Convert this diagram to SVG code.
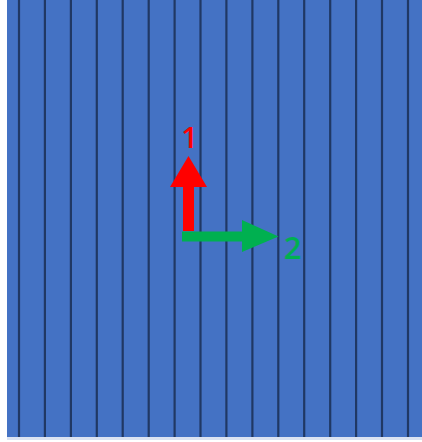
<svg xmlns="http://www.w3.org/2000/svg" width="422" height="442" viewBox="0 0 422 442">
<style>
.bg{fill:#4472c4}
.ln{stroke:#203864;stroke-width:2.2}
.lbl{font-family:"Open Sans","Liberation Sans",sans-serif;font-weight:600}
</style>
<rect x="0" y="0" width="422" height="442" fill="#ffffff"/>
<rect class="bg" x="7" y="0" width="415" height="437"/>
<rect x="7" y="437" width="415" height="3" fill="#dbe3f2"/>
<g id="lines">
<line class="ln" x1="19" y1="0" x2="19" y2="437"/>
<line class="ln" x1="44.9" y1="0" x2="44.9" y2="437"/>
<line class="ln" x1="70.9" y1="0" x2="70.9" y2="437"/>
<line class="ln" x1="96.8" y1="0" x2="96.8" y2="437"/>
<line class="ln" x1="122.7" y1="0" x2="122.7" y2="437"/>
<line class="ln" x1="148.7" y1="0" x2="148.7" y2="437"/>
<line class="ln" x1="174.6" y1="0" x2="174.6" y2="437"/>
<line class="ln" x1="200.5" y1="0" x2="200.5" y2="437"/>
<line class="ln" x1="226.4" y1="0" x2="226.4" y2="437"/>
<line class="ln" x1="252.4" y1="0" x2="252.4" y2="437"/>
<line class="ln" x1="278.3" y1="0" x2="278.3" y2="437"/>
<line class="ln" x1="304.2" y1="0" x2="304.2" y2="437"/>
<line class="ln" x1="330.2" y1="0" x2="330.2" y2="437"/>
<line class="ln" x1="356.1" y1="0" x2="356.1" y2="437"/>
<line class="ln" x1="382" y1="0" x2="382" y2="437"/>
<line class="ln" x1="408" y1="0" x2="408" y2="437"/>
</g>
<g id="axis1">
<polygon fill="#ff0000" points="183,231 194,231 194,187 207,187 188.5,156 170,187 183,187"/>
<text class="lbl" x="189.5" y="148" font-size="29" fill="#ff0000" text-anchor="middle">1</text>
</g>
<g id="axis2">
<polygon fill="#00b050" points="182,231.5 242,231.5 242,220 278.5,236.5 242,252 242,241.5 182,241.5"/>
<text class="lbl" x="292.5" y="259" font-size="31" fill="#00b050" text-anchor="middle">2</text>
</g>
</svg>
